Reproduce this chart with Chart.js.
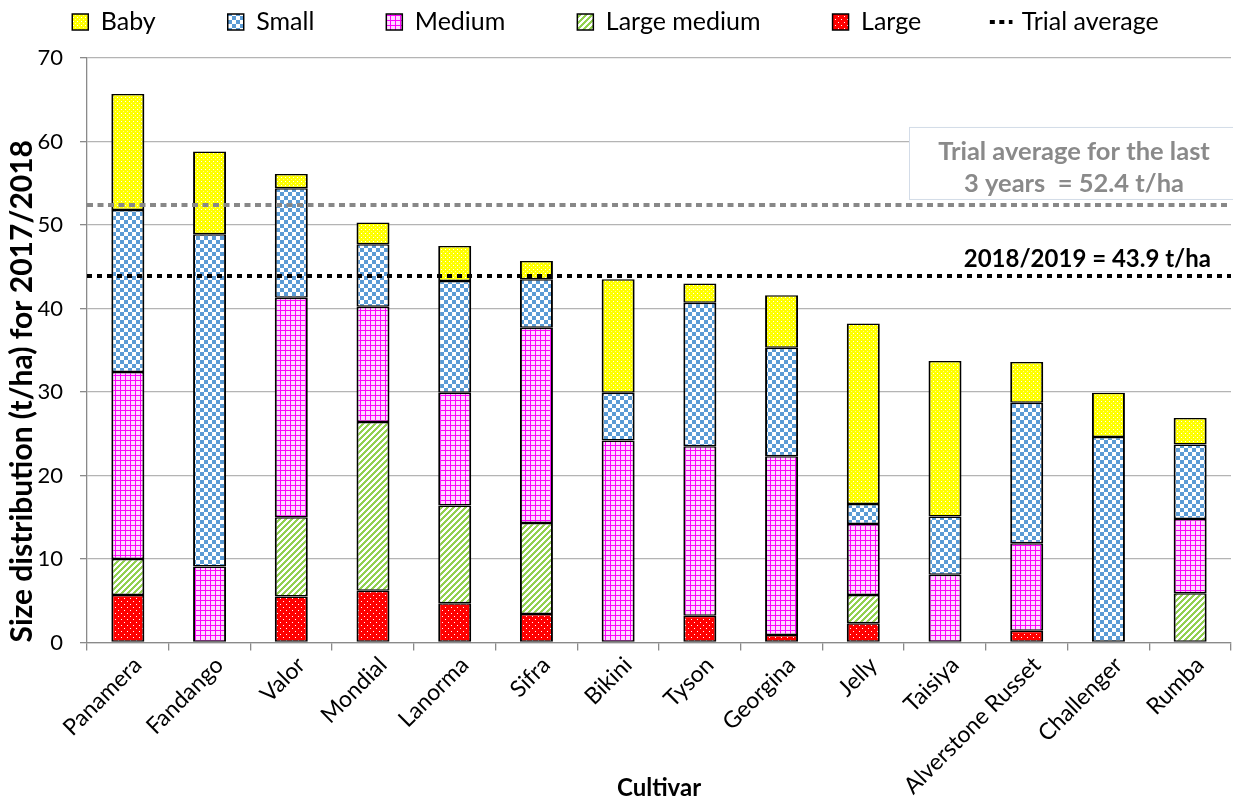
<!DOCTYPE html>
<html>
<head>
<meta charset="utf-8">
<title>Size distribution by cultivar</title>
<script src="https://cdn.jsdelivr.net/npm/chart.js@4.4.1/dist/chart.umd.min.js"></script>
<style>
  html, body { margin: 0; padding: 0; background: #ffffff; }
  #wrap { width: 1233px; height: 803px; }
</style>
</head>
<body>
<div id="wrap"><canvas id="chart" width="1233" height="803"></canvas></div>
<script>
// Yield per size grade (t/ha), listed bottom-to-top of each stack
const cultivars = ['Panamera', 'Fandango', 'Valor', 'Mondial', 'Lanorma', 'Sifra', 'Bikini',
  'Tyson', 'Georgina', 'Jelly', 'Taisiya', 'Alverstone Russet', 'Challenger', 'Rumba'];
const large       = [5.7, 0, 5.5, 6.2, 4.7, 3.4, 0, 3.2, 0.9, 2.3, 0, 1.4, 0, 0];
const largeMedium = [4.3, 0, 9.5, 20.2, 11.7, 10.9, 0, 0, 0, 3.4, 0, 0, 0, 5.9];
const medium      = [22.4, 9.1, 26.3, 13.8, 13.5, 23.4, 24.2, 20.3, 21.4, 8.5, 8.1, 10.5, 0, 8.9];
const small       = [19.4, 39.8, 13.1, 7.5, 13.4, 5.8, 5.7, 17.2, 13.0, 2.4, 7.0, 16.8, 24.6, 8.9];
const baby        = [13.9, 9.9, 1.7, 2.6, 4.2, 2.2, 13.6, 2.3, 6.3, 21.6, 18.6, 4.9, 5.3, 3.2];

// Trial means (t/ha)
const threeYearAverage = 52.4;
const seasonAverage = 43.9;

// Axis range
const yMin = 0;
const yMax = 70;
const yStep = 10;

const FONT = 'Lato, "Open Sans", sans-serif';

// Tiled fills for the size grades
function makePattern(size, paint) {
  const c = document.createElement('canvas');
  c.width = size; c.height = size;
  const g = c.getContext('2d');
  paint(g, size);
  return g.createPattern(c, 'repeat');
}
const babyFill = makePattern(4, (g) => {
  g.fillStyle = '#ffff00'; g.fillRect(0, 0, 4, 4);
  g.fillStyle = '#ffffff'; g.fillRect(1, 1, 1, 1);
  g.fillStyle = '#ffff90'; g.fillRect(3, 3, 1, 1);
});
const smallFill = makePattern(8, (g) => {
  g.fillStyle = '#ffffff'; g.fillRect(0, 0, 8, 8);
  g.fillStyle = '#5b9bd5'; g.fillRect(0, 0, 4, 4); g.fillRect(4, 4, 4, 4);
});
const mediumFill = makePattern(5, (g) => {
  g.fillStyle = '#ffd8ff'; g.fillRect(0, 0, 5, 5);
  g.fillStyle = '#ff00ff'; g.fillRect(0, 0, 5, 1); g.fillRect(0, 0, 1, 5);
});
const largeMediumFill = makePattern(6, (g) => {
  g.fillStyle = '#ffffff'; g.fillRect(0, 0, 6, 6);
  g.fillStyle = '#92d050';
  for (let i = 0; i < 6; i++) {
    g.fillRect(i, 5 - i, 1, 1);
    g.fillRect(i, (6 - i) % 6, 1, 1);
    g.fillRect(i, (7 - i) % 6, 1, 1);
  }
});
const largeFill = makePattern(6, (g) => {
  g.fillStyle = '#ff0000'; g.fillRect(0, 0, 6, 6);
  g.fillStyle = '#ffffff'; g.fillRect(1, 1, 1, 1); g.fillRect(4, 4, 1, 1);
});

function gradeSet(label, data, fill) {
  return {
    label, data,
    stack: 'grades',
    grouped: false,
    backgroundColor: fill,
    borderColor: '#000000',
    borderWidth: { top: 1.5, bottom: 1.5, left: 2, right: 2 },
    borderSkipped: false,
    barPercentage: 0.404,
    categoryPercentage: 1.0,
    order: 1
  };
}

function meanLine(label, value, color, dash, stackKey) {
  return {
    type: 'line',
    label,
    data: [{ x: 0, y: value }, { x: 1, y: value }],
    xAxisID: 'xLine',
    stack: stackKey,
    borderColor: color,
    backgroundColor: color,
    borderWidth: 4,
    borderDash: dash,
    borderCapStyle: 'butt',
    pointRadius: 0,
    fill: false,
    order: 0
  };
}

const datasets = [
  gradeSet('Large', large, largeFill),
  gradeSet('Large medium', largeMedium, largeMediumFill),
  gradeSet('Medium', medium, mediumFill),
  gradeSet('Small', small, smallFill),
  gradeSet('Baby', baby, babyFill),
  meanLine('Trial average', seasonAverage, '#000000', [5, 5], 'season'),
  meanLine('Three-year average', threeYearAverage, '#888888', [6, 4.5], 'threeYear')
];
const SEASON_INDEX = 5;
const GRADE_COUNT = 5;

// Notes written above the two mean lines
const averageNotes = {
  id: 'averageNotes',
  beforeDatasetsDraw(chart) {
    const { ctx, chartArea, scales: { y } } = chart;
    const yThree = y.getPixelForValue(threeYearAverage);
    const ySeason = y.getPixelForValue(seasonAverage);
    ctx.save();
    const boxLeft = chartArea.right - 322;
    const boxTop = yThree - 78;
    ctx.fillStyle = '#ffffff';
    ctx.fillRect(boxLeft, boxTop, chart.width - boxLeft + 5, 72);
    ctx.strokeStyle = '#d3dce8';
    ctx.lineWidth = 1;
    ctx.strokeRect(boxLeft + 0.5, boxTop + 0.5, chart.width - boxLeft + 5, 72);
    ctx.textBaseline = 'middle';
    ctx.textAlign = 'center';
    ctx.font = 'bold 25.5px ' + FONT;
    ctx.fillStyle = '#8a8a8a';
    const cx = chartArea.right - 157;
    ctx.fillText('Trial average for the last', cx, yThree - 53);
    ctx.fillText('3 years  = ' + threeYearAverage.toFixed(1) + ' t/ha', cx, yThree - 21);
    ctx.font = 'bold 24px ' + FONT;
    ctx.textAlign = 'right';
    ctx.fillStyle = '#000000';
    ctx.fillText('2018/2019 = ' + seasonAverage.toFixed(1) + ' t/ha', chartArea.right - 20, ySeason - 17);
    ctx.restore();
  }
};

new Chart(document.getElementById('chart'), {
  type: 'bar',
  data: { labels: cultivars, datasets },
  options: {
    responsive: false,
    animation: false,
    devicePixelRatio: 1,
    layout: { padding: { top: -62.5, left: 0, right: 2, bottom: 0 } },
    plugins: {
      tooltip: { enabled: false },
      title: { display: false },
      subtitle: { display: true, text: '', weight: 500, padding: 0, font: { size: 13.5, lineHeight: 1 } },
      legend: {
        position: 'top',
        align: 'center',
        weight: 1000,
        labels: {
          usePointStyle: true,
          boxWidth: 16,
          boxHeight: 16,
          padding: 72,
          color: '#000000',
          font: { family: FONT, size: 25 },
          generateLabels(chart) {
            const base = Chart.defaults.plugins.legend.labels.generateLabels(chart);
            const grades = base.filter(it => it.datasetIndex < GRADE_COUNT).reverse()
              .map(it => Object.assign(it, { pointStyle: 'rect', lineWidth: 1.5, strokeStyle: '#000000', lineDash: [] }));
            const season = base.filter(it => it.datasetIndex === SEASON_INDEX)
              .map(it => Object.assign(it, { pointStyle: 'line', lineWidth: 4, strokeStyle: '#000000', lineDash: [5, 4.5], lineCap: 'butt' }));
            return grades.concat(season);
          }
        }
      }
    },
    scales: {
      x: {
        stacked: true,
        grid: { display: true, drawOnChartArea: false, drawTicks: true, tickLength: 8, offset: true, tickColor: '#8a8a8a', lineWidth: 1.3 },
        border: { color: '#8a8a8a', width: 1.3 },
        ticks: {
          autoSkip: false, minRotation: 45, maxRotation: 45,
          color: '#000000', font: { family: FONT, size: 23 },
          padding: 1, labelOffset: 10
        },
        title: {
          display: true, text: 'Cultivar', color: '#000000',
          font: { family: FONT, size: 24, weight: 'bold' }, padding: { top: 0, bottom: 0 }
        },
        afterFit(scale) { scale.height = 160.5; }
      },
      xLine: { type: 'linear', min: 0, max: 1, offset: false, display: false },
      y: {
        stacked: true,
        min: yMin, max: yMax,
        ticks: { stepSize: yStep, color: '#000000', font: { family: FONT, size: 22 }, padding: 17 },
        grid: { color: '#b4b4b4', lineWidth: 1.3, tickLength: 7, tickColor: '#8a8a8a' },
        border: { color: '#8a8a8a', width: 1.3 },
        title: {
          display: true, align: 'start', text: 'Size distribution (t/ha) for 2017/2018', color: '#000000',
          font: { family: FONT, size: 30, weight: 'bold' }, padding: { top: 4, bottom: 0 }
        },
        afterFit(scale) { scale.width = 87; }
      }
    }
  },
  plugins: [averageNotes]
});
</script>
</body>
</html>
